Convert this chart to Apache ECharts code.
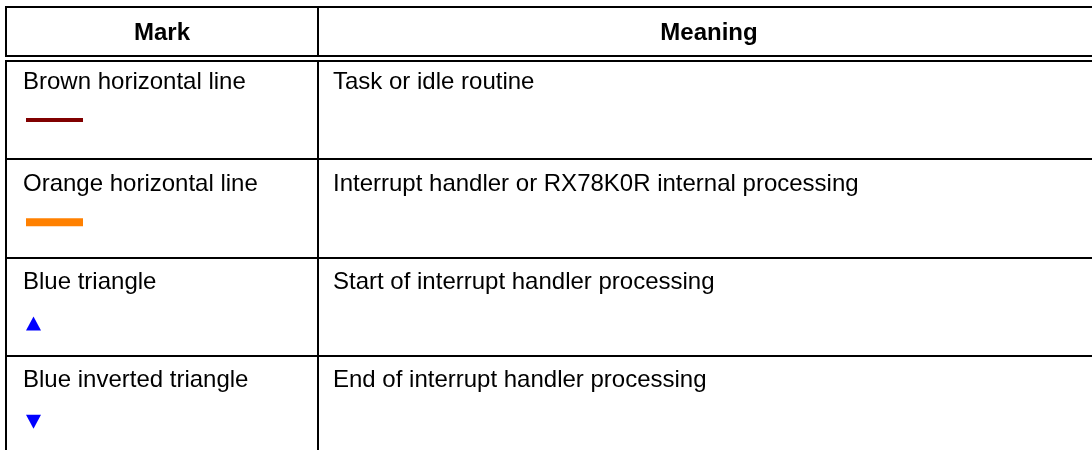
<!DOCTYPE html>
<html><head><meta charset="utf-8">
<script src="https://cdn.jsdelivr.net/npm/echarts@6/dist/echarts.min.js"></script>
<style>html,body{margin:0;padding:0;background:#fff}#c{width:1092px;height:450px}</style>
</head><body><div id="c"></div>
<script>
// ---- data ----
const headers = ['Mark', 'Meaning'];
const markNames = ['Brown horizontal line', 'Orange horizontal line', 'Blue triangle', 'Blue inverted triangle'];
const meanings = ['Task or idle routine', 'Interrupt handler or RX78K0R internal processing', 'Start of interrupt handler processing', 'End of interrupt handler processing'];
const markKinds = ['brownLine', 'orangeLine', 'triangleUp', 'triangleDown'];

// ---- styles / layout ----
const FONT = '"Liberation Sans", Arial, Helvetica, sans-serif';
const FS = 24;
const COL_SPLIT = 312 / 1094;
const TEXT_DY = [21.5, 25, 24.5, 24.5];
const LINE = { stroke: '#000', lineWidth: 2 };
const MARK_STYLE = {
  brownLine: { type: 'bar', color: '#800000', top: 57, h: 4 },
  orangeLine: { type: 'bar', color: '#ff8000', top: 59, h: 8 },
  triangleUp: { type: 'tri', up: true, color: '#0000ff', top: 59 },
  triangleDown: { type: 'tri', up: false, color: '#0000ff', top: 59 }
};

function hLine(x1, x2, y) { return { type: 'line', shape: { x1, y1: Math.round(y), x2, y2: Math.round(y) }, style: LINE }; }
function vLine(x, y1, y2) { return { type: 'line', shape: { x1: Math.round(x), y1, x2: Math.round(x), y2 }, style: LINE }; }

function renderHeader(params, api) {
  const i = api.value(1);
  const c = api.coord([0, i]);
  const h = api.size([0, 1])[1];
  const y0 = c[1] - h / 2, y1 = c[1] + h / 2;
  const xL = api.coord([0, i])[0], xS = api.coord([COL_SPLIT, i])[0], xR = api.coord([1, i])[0];
  const font = { fontFamily: FONT, fontSize: FS, fontWeight: 'bold', fill: '#000', align: 'center', verticalAlign: 'middle' };
  return { type: 'group', children: [
    hLine(xL - 1, xR + 1, y0), hLine(xL - 1, xR + 1, y1),
    vLine(xL, y0, y1), vLine(xS, y0, y1), vLine(xR, y0, y1),
    { type: 'text', style: Object.assign({ text: headers[0], x: (xL + xS) / 2, y: c[1] + 1.5 }, font) },
    { type: 'text', style: Object.assign({ text: headers[1], x: (xS + xR) / 2, y: c[1] + 1.5 }, font) }
  ] };
}

function renderBody(params, api) {
  const i = api.value(1);
  const c = api.coord([0, i]);
  const h = api.size([0, 1])[1];
  const y0 = c[1] - h / 2, y1 = c[1] + h / 2;
  const xL = api.coord([0, i])[0], xS = api.coord([COL_SPLIT, i])[0], xR = api.coord([1, i])[0];
  const font = { fontFamily: FONT, fontSize: FS, fill: '#000', align: 'left', verticalAlign: 'middle' };
  const ty = y0 + TEXT_DY[i];
  const children = [
    hLine(xL - 1, xR + 1, y0), hLine(xL - 1, xR + 1, y1),
    vLine(xL, y0 - 1, y1 + 1), vLine(xS, y0 - 1, y1 + 1), vLine(xR, y0 - 1, y1 + 1),
    { type: 'text', style: Object.assign({ text: markNames[i], x: xL + 17, y: ty }, font) },
    { type: 'text', style: Object.assign({ text: meanings[i], x: xS + 15, y: ty }, font) }
  ];
  const m = MARK_STYLE[markKinds[i]];
  const mx = xL + 20;
  if (m.type === 'bar') {
    children.push({ type: 'rect', shape: { x: mx, y: y0 + m.top, width: 57, height: m.h }, style: { fill: m.color } });
  } else {
    const t = y0 + m.top, b = t + 14;
    const pts = m.up ? [[mx + 7.5, t], [mx + 15, b], [mx, b]] : [[mx, t], [mx + 15, t], [mx + 7.5, b]];
    children.push({ type: 'polygon', shape: { points: pts }, style: { fill: m.color } });
  }
  return { type: 'group', children };
}

const chart = echarts.init(document.getElementById('c'), null, { renderer: 'canvas' });
chart.setOption({
  animation: false,
  backgroundColor: '#fff',
  grid: [
    { left: 6, right: -8, top: 7, height: 49, outerBoundsMode: 'none', containLabel: false },
    { left: 6, right: -8, top: 61, height: 393, outerBoundsMode: 'none', containLabel: false }
  ],
  xAxis: [
    { gridIndex: 0, type: 'value', min: 0, max: 1, show: false },
    { gridIndex: 1, type: 'value', min: 0, max: 1, show: false }
  ],
  yAxis: [
    { gridIndex: 0, type: 'category', data: ['header'], inverse: true, show: false },
    { gridIndex: 1, type: 'category', data: markNames, inverse: true, show: false }
  ],
  series: [
    { type: 'custom', xAxisIndex: 0, yAxisIndex: 0, renderItem: renderHeader, data: [[0, 0]], encode: { x: 0, y: 1 }, silent: true, clip: false },
    { type: 'custom', xAxisIndex: 1, yAxisIndex: 1, renderItem: renderBody, data: markNames.map((_, i) => [0, i]), encode: { x: 0, y: 1 }, silent: true, clip: false }
  ]
});
</script></body></html>
